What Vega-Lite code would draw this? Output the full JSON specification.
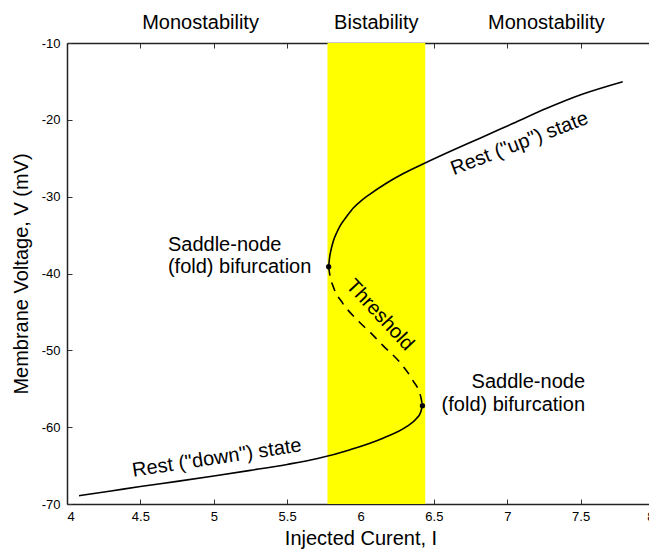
{
  "$schema": "https://vega.github.io/schema/vega-lite/v6.json",
  "width": 587,
  "height": 461,
  "autosize": {"type": "none"},
  "padding": {"left": 67, "top": 43, "right": 0, "bottom": 48},
  "background": "white",
  "config": {
    "view": {"stroke": null},
    "font": "Liberation Sans",
    "axis": {
      "grid": false,
      "domainColor": "#222222",
      "domainWidth": 1.5,
      "tickColor": "#333333",
      "tickWidth": 1,
      "tickSize": -5,
      "labelColor": "#000000",
      "labelFont": "Liberation Sans",
      "labelFontSize": 13,
      "titleFont": "Liberation Sans",
      "titleFontSize": 20,
      "titleFontWeight": "normal",
      "titleColor": "#000000"
    }
  },
  "datasets": {
    "band": [{"from": 5.775, "to": 6.441}],
    "lower": [
      {"I": 4.082, "V": -68.92},
      {"I": 4.3, "V": -68.3},
      {"I": 4.5, "V": -67.72},
      {"I": 4.75, "V": -67.05},
      {"I": 5.0, "V": -66.35},
      {"I": 5.25, "V": -65.62},
      {"I": 5.5, "V": -64.85},
      {"I": 5.7, "V": -64.12},
      {"I": 5.93, "V": -62.93},
      {"I": 6.157, "V": -61.4},
      {"I": 6.316, "V": -59.9},
      {"I": 6.38, "V": -58.9},
      {"I": 6.41, "V": -58.05},
      {"I": 6.422, "V": -57.2}
    ],
    "threshold": [
      {"I": 5.783, "V": -39.12},
      {"I": 5.792, "V": -40.3},
      {"I": 5.814, "V": -41.7},
      {"I": 5.878, "V": -43.85},
      {"I": 5.97, "V": -45.9},
      {"I": 6.068, "V": -47.7},
      {"I": 6.157, "V": -49.45},
      {"I": 6.27, "V": -51.6},
      {"I": 6.356, "V": -53.9},
      {"I": 6.41, "V": -56.0},
      {"I": 6.422, "V": -57.2}
    ],
    "upper": [
      {"I": 5.783, "V": -39.12},
      {"I": 5.789, "V": -37.98},
      {"I": 5.799, "V": -36.94},
      {"I": 5.815, "V": -35.77},
      {"I": 5.84, "V": -34.6},
      {"I": 5.86, "V": -33.82},
      {"I": 5.908, "V": -32.52},
      {"I": 5.951, "V": -31.48},
      {"I": 6.01, "V": -30.44},
      {"I": 6.065, "V": -29.66},
      {"I": 6.179, "V": -28.22},
      {"I": 6.292, "V": -26.99},
      {"I": 6.44, "V": -25.62},
      {"I": 6.632, "V": -23.93},
      {"I": 6.814, "V": -22.4},
      {"I": 7.041, "V": -20.45},
      {"I": 7.269, "V": -18.5},
      {"I": 7.496, "V": -16.77},
      {"I": 7.787, "V": -15.04}
    ],
    "folds": [
      {"I": 5.783, "V": -39.12},
      {"I": 6.422, "V": -57.2}
    ],
    "regions": [
      {"label": "Monostability", "I": 4.91, "V": -8.22},
      {"label": "Bistability", "I": 6.108, "V": -8.22},
      {"label": "Monostability", "I": 7.267, "V": -8.22}
    ],
    "curveLabels": [
      {"label": "Rest (\"up\") state", "I": 7.084, "V": -23.08, "angle": -21},
      {"label": "Rest (\"down\") state", "I": 5.021, "V": -64.02, "angle": -8.6},
      {"label": "Threshold", "I": 6.133, "V": -45.4, "angle": 47}
    ],
    "noteLeft": [
      {"label": "Saddle-node\n(fold) bifurcation", "I": 4.688, "V": -37.07}
    ],
    "noteRight": [
      {"label": "Saddle-node\n(fold) bifurcation", "I": 7.53, "V": -54.94}
    ]
  },
  "resolve": {"axis": {"x": "independent", "y": "independent"}},
  "layer": [
    {
      "data": {"name": "band"},
      "mark": {"type": "rect", "color": "#FFFF00"},
      "encoding": {
        "x": {
          "field": "from", "type": "quantitative",
          "scale": {"domain": [4, 8], "nice": false, "zero": false},
          "axis": {
            "orient": "bottom",
            "title": "Injected Curent, I",
            "values": [4, 4.5, 5, 5.5, 6, 6.5, 7, 7.5, 8],
            "labelExpr": "'' + datum.value",
            "labelPadding": 11,
            "titlePadding": 5
          }
        },
        "x2": {"field": "to"}
      }
    },
    {
      "data": {"name": "lower"},
      "mark": {"type": "line", "color": "#000000", "strokeWidth": 1.6, "interpolate": "monotone"},
      "encoding": {
        "x": {
          "field": "I", "type": "quantitative",
          "scale": {"domain": [4, 8], "nice": false, "zero": false},
          "axis": {"orient": "top", "labels": false, "title": null, "values": [4, 4.5, 5, 5.5, 6, 6.5, 7, 7.5, 8]}
        },
        "y": {
          "field": "V", "type": "quantitative",
          "scale": {"domain": [-70, -10], "nice": false, "zero": false},
          "axis": {
            "orient": "left",
            "title": "Membrane Voltage, V  (mV)",
            "values": [-10, -20, -30, -40, -50, -60, -70],
            "labelExpr": "'' + datum.value",
            "labelPadding": 12,
            "titlePadding": 10
          }
        }
      }
    },
    {
      "data": {"name": "upper"},
      "mark": {"type": "line", "color": "#000000", "strokeWidth": 1.6, "interpolate": "monotone"},
      "encoding": {
        "x": {"field": "I", "type": "quantitative", "scale": {"domain": [4, 8], "nice": false, "zero": false}, "axis": null},
        "y": {
          "field": "V", "type": "quantitative",
          "scale": {"domain": [-70, -10], "nice": false, "zero": false},
          "axis": {"orient": "right", "labels": false, "title": null, "values": [-10, -20, -30, -40, -50, -60, -70]}
        }
      }
    },
    {
      "data": {"name": "threshold"},
      "mark": {"type": "line", "color": "#000000", "strokeWidth": 1.6, "strokeDash": [9, 7], "interpolate": "monotone"},
      "encoding": {
        "x": {"field": "I", "type": "quantitative", "scale": {"domain": [4, 8], "nice": false, "zero": false}, "axis": null},
        "y": {"field": "V", "type": "quantitative", "scale": {"domain": [-70, -10], "nice": false, "zero": false}, "axis": null}
      }
    },
    {
      "data": {"name": "folds"},
      "mark": {"type": "point", "filled": true, "color": "#000000", "size": 28, "opacity": 1},
      "encoding": {
        "x": {"field": "I", "type": "quantitative", "scale": {"domain": [4, 8], "nice": false, "zero": false}, "axis": null},
        "y": {"field": "V", "type": "quantitative", "scale": {"domain": [-70, -10], "nice": false, "zero": false}, "axis": null}
      }
    },
    {
      "data": {"name": "regions"},
      "mark": {"type": "text", "fontSize": 20, "font": "Liberation Sans", "align": "center", "baseline": "alphabetic", "color": "#000000"},
      "encoding": {
        "x": {"field": "I", "type": "quantitative", "scale": {"domain": [4, 8], "nice": false, "zero": false}, "axis": null},
        "y": {"field": "V", "type": "quantitative", "scale": {"domain": [-70, -10], "nice": false, "zero": false}, "axis": null},
        "text": {"field": "label"}
      }
    },
    {
      "data": {"name": "curveLabels"},
      "mark": {"type": "text", "fontSize": 20, "font": "Liberation Sans", "align": "center", "baseline": "middle", "color": "#000000"},
      "encoding": {
        "x": {"field": "I", "type": "quantitative", "scale": {"domain": [4, 8], "nice": false, "zero": false}, "axis": null},
        "y": {"field": "V", "type": "quantitative", "scale": {"domain": [-70, -10], "nice": false, "zero": false}, "axis": null},
        "angle": {"field": "angle", "type": "quantitative", "scale": null},
        "text": {"field": "label"}
      }
    },
    {
      "data": {"name": "noteLeft"},
      "mark": {"type": "text", "fontSize": 20, "font": "Liberation Sans", "align": "left", "baseline": "alphabetic", "lineBreak": "\n", "lineHeight": 22.5, "color": "#000000"},
      "encoding": {
        "x": {"field": "I", "type": "quantitative", "scale": {"domain": [4, 8], "nice": false, "zero": false}, "axis": null},
        "y": {"field": "V", "type": "quantitative", "scale": {"domain": [-70, -10], "nice": false, "zero": false}, "axis": null},
        "text": {"field": "label"}
      }
    },
    {
      "data": {"name": "noteRight"},
      "mark": {"type": "text", "fontSize": 20, "font": "Liberation Sans", "align": "right", "baseline": "alphabetic", "lineBreak": "\n", "lineHeight": 22.5, "color": "#000000"},
      "encoding": {
        "x": {"field": "I", "type": "quantitative", "scale": {"domain": [4, 8], "nice": false, "zero": false}, "axis": null},
        "y": {"field": "V", "type": "quantitative", "scale": {"domain": [-70, -10], "nice": false, "zero": false}, "axis": null},
        "text": {"field": "label"}
      }
    }
  ]
}
